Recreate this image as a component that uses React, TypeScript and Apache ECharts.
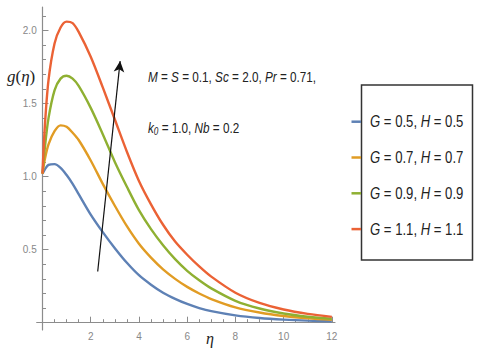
import React, { useEffect, useRef } from "react";
import * as echarts from "echarts";

const eta = [0, 0.1, 0.25, 0.5, 0.75, 1.0, 1.25, 1.5, 2, 2.5, 3, 3.5, 4, 4.5, 5, 5.5, 6, 6.5, 7, 8, 9, 10, 11, 12];
const gBlue = [1.02, 1.05, 1.08, 1.085, 1.06, 1.01, 0.95, 0.88, 0.74, 0.62, 0.51, 0.41, 0.325, 0.26, 0.205, 0.163, 0.128, 0.1, 0.079, 0.05, 0.032, 0.021, 0.014, 0.01];
const gOrange = [1.02, 1.12, 1.22, 1.31, 1.35, 1.34, 1.3, 1.25, 1.11, 0.95, 0.8, 0.66, 0.54, 0.445, 0.365, 0.3, 0.245, 0.2, 0.162, 0.105, 0.07, 0.046, 0.03, 0.02];
const gGreen = [1.02, 1.2, 1.4, 1.59, 1.67, 1.69, 1.67, 1.62, 1.47, 1.29, 1.1, 0.93, 0.77, 0.64, 0.53, 0.435, 0.355, 0.29, 0.235, 0.15, 0.097, 0.063, 0.041, 0.027];
const gRed = [1.02, 1.35, 1.66, 1.91, 2.02, 2.06, 2.05, 1.99, 1.82, 1.61, 1.39, 1.17, 0.97, 0.81, 0.67, 0.555, 0.465, 0.385, 0.315, 0.205, 0.135, 0.09, 0.06, 0.04];

const seriesNames = ["G = 0.5, H = 0.5", "G = 0.7, H = 0.7", "G = 0.9, H = 0.9", "G = 1.1, H = 1.1"];
const legendG = ["0.5", "0.7", "0.9", "1.1"];
const legendH = ["0.5", "0.7", "0.9", "1.1"];
const seriesValues = [gBlue, gOrange, gGreen, gRed];
const colors = ["#5E81B5", "#E19C24", "#8FB032", "#EB6235"];

const xMajorTicks = [2, 4, 6, 8, 10, 12];
const xMinorTicks = [0.5, 1, 1.5, 2.5, 3, 3.5, 4.5, 5, 5.5, 6.5, 7, 7.5, 8.5, 9, 9.5, 10.5, 11, 11.5];
const yMajorTicks = [0.5, 1.0, 1.5, 2.0];
const yMinorTicks = [0.1, 0.2, 0.3, 0.4, 0.6, 0.7, 0.8, 0.9, 1.1, 1.2, 1.3, 1.4, 1.6, 1.7, 1.8, 1.9, 2.1];

// arrow annotation endpoints (data space)
const arrowFrom = [2.29, 0.35];
const arrowTo = [3.22, 1.79];

const SANS = "'Liberation Sans', Arial, sans-serif";
const AXIS_GRAY = "#8c8c8c";
const NARROW_SCALE = 0.82;

export default function App() {
  const ref = useRef<HTMLDivElement>(null);
  useEffect(() => {
    if (!ref.current) return;
    const chart = echarts.init(ref.current, null, { renderer: "svg" });
    const xMin = -0.24, xMax = 12.13, yMin = -0.05, yMax = 2.16;

    const legendTop = 121.7, legendStep = 35.8;
    const legendGraphics: any[] = [];
    seriesNames.forEach((_, k) => {
      const y = legendTop + k * legendStep;
      legendGraphics.push({
        type: "line",
        shape: { x1: 351.5, y1: y, x2: 361, y2: y },
        style: { stroke: colors[k], lineWidth: 2.5 },
      });
      legendGraphics.push({
        type: "text",
        x: 370, y: y,
        scaleX: NARROW_SCALE,
        style: {
          text: `{i|G}{n| = ${legendG[k]}, }{i|H}{n| = ${legendH[k]}}`,
          verticalAlign: "middle",
          rich: {
            i: { fontStyle: "italic", fontFamily: SANS, fontSize: 16, fill: "#222" },
            n: { fontFamily: SANS, fontSize: 16, fill: "#222" },
          },
        },
      });
    });

    const option: any = {
      animation: false,
      backgroundColor: "#fff",
      grid: { left: 36.7, right: 145, top: 7, bottom: 25, containLabel: false },
      xAxis: [
        {
          type: "value", min: xMin, max: xMax, position: "bottom",
          axisLine: { onZero: true, onZeroAxisIndex: 0, lineStyle: { color: AXIS_GRAY, width: 1.2 } },
          axisTick: { show: true, inside: true, length: 6, customValues: xMajorTicks, lineStyle: { color: AXIS_GRAY } },
          axisLabel: { customValues: xMajorTicks, color: "#888", fontSize: 10, fontFamily: SANS, margin: 1 },
          splitLine: { show: false },
        },
        {
          type: "value", min: xMin, max: xMax, position: "bottom",
          axisLine: { show: false, onZero: true, onZeroAxisIndex: 0 },
          axisTick: { show: true, inside: true, length: 3.5, customValues: xMinorTicks, lineStyle: { color: AXIS_GRAY } },
          axisLabel: { show: false },
          splitLine: { show: false },
        },
      ],
      yAxis: [
        {
          type: "value", min: yMin, max: yMax, position: "left",
          axisLine: { show: true, onZero: true, onZeroAxisIndex: 0, lineStyle: { color: AXIS_GRAY, width: 1.2 } },
          axisTick: { show: true, inside: true, length: 6, customValues: yMajorTicks, lineStyle: { color: AXIS_GRAY } },
          axisLabel: { customValues: yMajorTicks, color: "#888", fontSize: 10, fontFamily: SANS, margin: 0, formatter: (v: number) => v.toFixed(1) },
          splitLine: { show: false },
        },
        {
          type: "value", min: yMin, max: yMax, position: "left",
          axisLine: { show: false, onZero: true, onZeroAxisIndex: 0 },
          axisTick: { show: true, inside: true, length: 3.5, customValues: yMinorTicks, lineStyle: { color: AXIS_GRAY } },
          axisLabel: { show: false },
          splitLine: { show: false },
        },
      ],
      series: seriesValues.map((vals, k) => ({
        name: seriesNames[k],
        type: "line",
        xAxisIndex: 0,
        yAxisIndex: 0,
        data: eta.map((x, i) => [x, vals[i]]),
        smooth: 0.3,
        showSymbol: false,
        symbol: "none",
        lineStyle: { color: colors[k], width: 2.4 },
        itemStyle: { color: colors[k] },
        z: 3,
        markLine: k === 0 ? {
          silent: true,
          symbol: ["none", "arrow"],
          symbolSize: [8, 11],
          label: { show: false },
          lineStyle: { color: "#111", width: 1.2, type: "solid" },
          data: [[{ coord: arrowFrom }, { coord: arrowTo }]],
        } : undefined,
      })),
      graphic: [
        {
          type: "rect",
          shape: { x: 361.5, y: 85, width: 111, height: 175 },
          style: { fill: "none", stroke: "#333", lineWidth: 1.5 },
        },
        ...legendGraphics,
        {
          type: "text",
          x: 7, y: 76,
          style: {
            text: "{i|g}{n|(}{i|η}{n|)}",
            verticalAlign: "middle",
            rich: {
              i: { fontStyle: "italic", fontFamily: "'Liberation Serif', serif", fontSize: 17, fill: "#222" },
              n: { fontFamily: "'Liberation Serif', serif", fontSize: 17, fill: "#222" },
            },
          },
        },
        {
          type: "text",
          x: 210, y: 338,
          style: {
            text: "η", fontStyle: "italic", fontFamily: "'Liberation Serif', serif", fontSize: 16,
            fill: "#222", align: "center", verticalAlign: "middle",
          },
        },
        {
          type: "text",
          x: 148, y: 77,
          scaleX: NARROW_SCALE,
          style: {
            text: "{i|M}{n| = }{i|S}{n| = 0.1, }{i|Sc}{n| = 2.0, }{i|Pr}{n| = 0.71,}",
            verticalAlign: "middle",
            rich: {
              i: { fontStyle: "italic", fontFamily: SANS, fontSize: 14.3, fill: "#222" },
              n: { fontFamily: SANS, fontSize: 14.3, fill: "#222" },
            },
          },
        },
        {
          type: "text",
          x: 148, y: 128,
          scaleX: NARROW_SCALE,
          style: {
            text: "{i|k}{s|0}{n| = 1.0, }{i|Nb}{n| = 0.2}",
            verticalAlign: "middle",
            rich: {
              i: { fontStyle: "italic", fontFamily: SANS, fontSize: 14.3, fill: "#222", lineHeight: 18 },
              n: { fontFamily: SANS, fontSize: 14.3, fill: "#222", lineHeight: 18 },
              s: { fontStyle: "italic", fontFamily: SANS, fontSize: 10, fill: "#222", lineHeight: 10, verticalAlign: "bottom" },
            },
          },
        },
      ],
    };
    chart.setOption(option);
    return () => chart.dispose();
  }, []);
  return (
    <div
      ref={ref}
      style={{ position: "fixed", left: 0, top: 0, width: 480, height: 355, background: "#fff" }}
    />
  );
}
